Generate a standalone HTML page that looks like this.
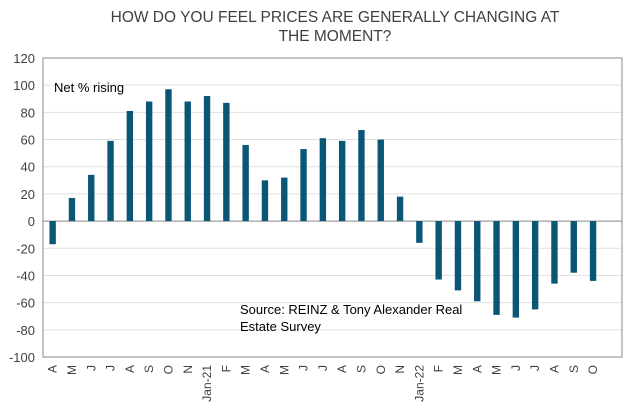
<!DOCTYPE html>
<html><head><meta charset="utf-8"><style>
body{margin:0;background:#fff;font-family:"Liberation Sans",sans-serif;}
#wrap{position:relative;width:629px;height:420px;overflow:hidden}
</style></head><body>
<div id="wrap">
<svg id="svg" width="629" height="420" xmlns="http://www.w3.org/2000/svg">
<text x="335" y="22" text-anchor="middle" font-size="15.5" fill="#404040">HOW DO YOU FEEL PRICES ARE GENERALLY CHANGING AT</text>
<text x="335" y="41" text-anchor="middle" font-size="15.5" fill="#404040">THE MOMENT?</text>
</svg>
</div>
<script>
const categories=["A","M","J","J","A","S","O","N","Jan-21","F","M","A","M","J","J","A","S","O","N","Jan-22","F","M","A","M","J","J","A","S","O"];
const values=[-17,17,34,59,81,88,97,88,92,87,56,30,32,53,61,59,67,60,18,-16,-43,-51,-59,-69,-71,-65,-46,-38,-44];
const yTicks=[120,100,80,60,40,20,0,-20,-40,-60,-80,-100];
const NS="http://www.w3.org/2000/svg";
const svg=document.getElementById('svg');
const L=43,R=622,T=58,B=357,slots=30;
const band=(R-L)/slots;
const y=v=>T+(120-v)*(B-T)/220;
const x=i=>L+band*(i+0.5);
function mk(t,a){const e=document.createElementNS(NS,t);for(const k in a)e.setAttribute(k,a[k]);svg.appendChild(e);return e;}
yTicks.forEach(v=>{
 if(v!==120&&v!==-100){const g=mk('line',{x1:L,x2:R,y1:y(v),y2:y(v),stroke:v===0?'#888':'#e0e0e0','stroke-width':1});
 
 }
 const t=mk('text',{x:L-8,y:y(v)+5,'text-anchor':'end','font-size':13,fill:'#404040'});t.textContent=v;
 
 
});
const fr=mk('rect',{x:L,y:T,width:R-L,height:B-T,fill:'none',stroke:'#888','stroke-width':1});


values.forEach((v,i)=>{
 const y0=y(0),yv=y(v);
 const b=mk('rect',{x:x(i)-3.2,y:Math.min(y0,yv),width:6.4,height:Math.abs(yv-y0),fill:'#0a5775'});
 
 
});
categories.forEach((c,i)=>{
 const t=mk('text',{x:0,y:0,'text-anchor':'end','font-size':12,fill:'#404040',transform:`translate(${x(i)+4},${B+8}) rotate(-90)`});
 t.textContent=c;
 
 
});
const lg=mk('text',{x:54,y:92,'font-size':13,fill:'#000'});lg.textContent='Net % rising';


const s1=mk('text',{x:240,y:314,'font-size':13,fill:'#000'});s1.textContent='Source: REINZ & Tony Alexander Real';


const s2=mk('text',{x:240,y:331,'font-size':13,fill:'#000'});s2.textContent='Estate Survey';


</script>
</body></html>
